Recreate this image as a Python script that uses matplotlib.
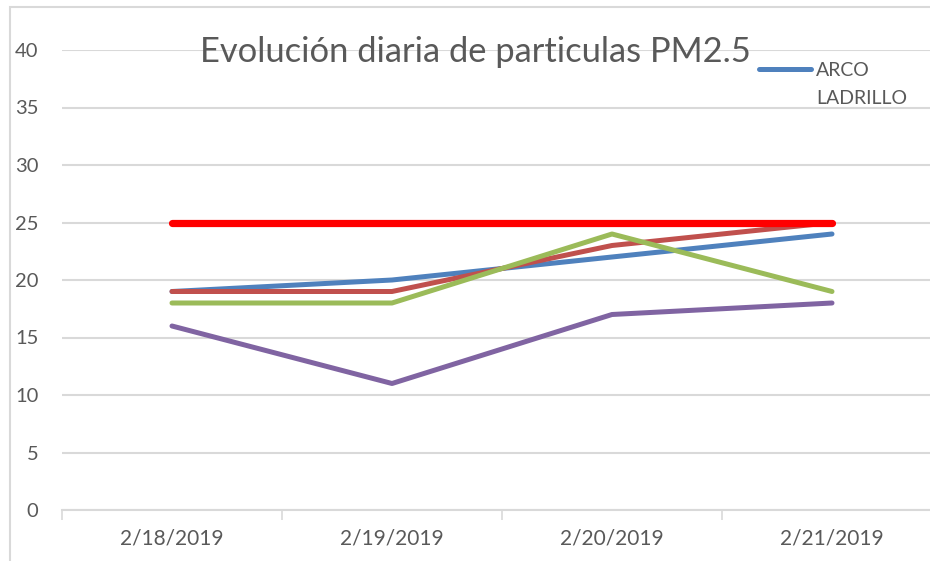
import matplotlib.pyplot as plt
from matplotlib.lines import Line2D
from matplotlib.patches import Rectangle

# Datos
fechas = ["2/18/2019", "2/19/2019", "2/20/2019", "2/21/2019"]
arco_ladrillo = [19, 20, 22, 24]
serie_roja = [19, 19, 23, 25]
serie_verde = [18, 18, 24, 19]
serie_morada = [16, 11, 17, 18]
limite = [25, 25, 25, 25]

gris = "#595959"
grid_col = "#d9d9d9"
plt.rcParams["font.family"] = ["Lato", "DejaVu Sans"]

fig = plt.figure(figsize=(9.3, 5.61), dpi=100)
W, H = 930, 561
ax = fig.add_axes([62 / W, 1 - 510 / H, 880 / W, 460 / H])

x = range(len(fechas))
ax.plot(x, arco_ladrillo, color="#4F81BD", lw=3.6, solid_capstyle="round", label="ARCO LADRILLO")
ax.plot(x, serie_roja, color="#C0504D", lw=3.6, solid_capstyle="round")
ax.plot(x, serie_verde, color="#9BBB59", lw=3.6, solid_capstyle="round")
ax.plot(x, serie_morada, color="#8064A2", lw=3.6, solid_capstyle="round")
ax.plot(x, limite, color="#FF0000", lw=5.2, solid_capstyle="round")

ax.set_xlim(-0.5, 3.5)
ax.set_ylim(0, 40)
ax.set_yticks(range(0, 41, 5))
ax.set_xticks(list(x))
ax.set_xticklabels(fechas)
ax.set_xticks([-0.5, 0.5, 1.5, 2.5, 3.5], minor=True)
ax.tick_params(axis="x", which="major", length=0, pad=13, labelsize=15, labelcolor=gris)
ax.tick_params(axis="x", which="minor", length=7, width=1.2, color=grid_col)
ax.tick_params(axis="y", length=0, pad=17, labelsize=14.5, labelcolor=gris)
ax.grid(axis="y", color=grid_col, lw=1.5)
ax.set_axisbelow(True)
for s in ["top", "right", "left"]:
    ax.spines[s].set_visible(False)
ax.spines["bottom"].set_color(grid_col)
ax.spines["bottom"].set_linewidth(1.5)
ax.spines["bottom"].set_zorder(0.5)

# marco del area del grafico
fig.patches.append(Rectangle((10 / W, -0.1), 1.2, 1.1 - 7 / H, transform=fig.transFigure,
                             fill=False, edgecolor=grid_col, lw=1.5))

fig.text(475 / W, 1 - 52 / H, "Evolución diaria de particulas PM2.5", ha="center", va="center",
         fontsize=24.8, color=gris)

# leyenda
fig.add_artist(Line2D([759 / W, 811 / W], [1 - 69 / H, 1 - 69 / H], transform=fig.transFigure,
                      color="#4F81BD", lw=3.6, solid_capstyle="round"))
fig.text(816 / W, 1 - 70 / H, "ARCO", ha="left", va="center", fontsize=14, color=gris)
fig.text(816 / W, 1 - 98 / H, "LADRILLO", ha="left", va="center", fontsize=14, color=gris)

fig.savefig("out.png", dpi=100)
